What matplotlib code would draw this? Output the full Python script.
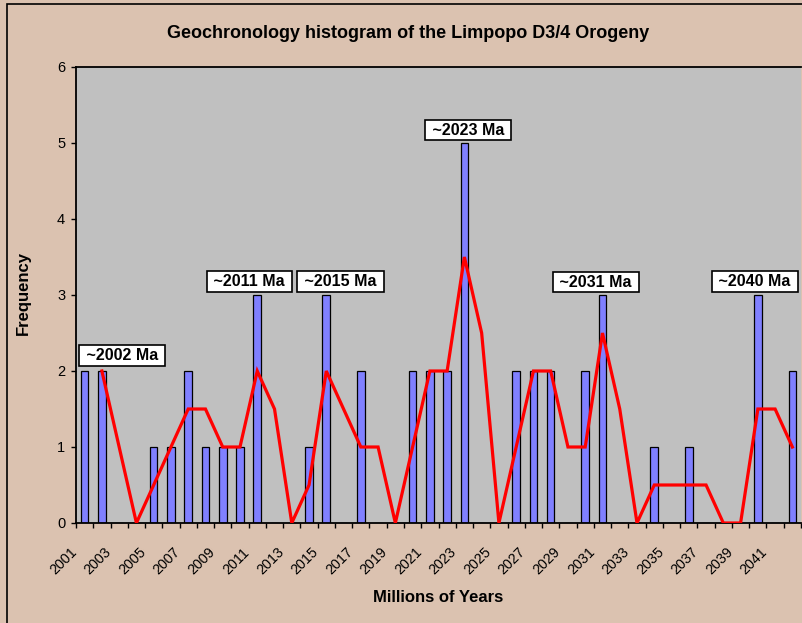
import matplotlib
matplotlib.use("Agg")
import matplotlib.pyplot as plt
from matplotlib.patches import Rectangle
from matplotlib.transforms import ScaledTranslation
import numpy as np

# ---- data ----
years = list(range(2001, 2043))
counts = [2, 2, 0, 0, 1, 1, 2, 1, 1, 1, 3, 0, 0, 1, 3, 0, 2, 0, 0, 2, 2,
          2, 5, 0, 0, 2, 2, 2, 0, 2, 3, 0, 0, 1, 0, 1, 0, 0, 0, 3, 0, 2]
tick_labels = [str(y) for y in years[::2]]
peak_labels = ['~2002 Ma', '~2011 Ma', '~2015 Ma', '~2023 Ma', '~2031 Ma', '~2040 Ma']
peak_pos = [(2.17, 2.20), (9.55, 3.18), (14.82, 3.18), (22.21, 5.17), (29.62, 3.17), (38.83, 3.18)]

title = 'Geochronology histogram of the Limpopo D3/4 Orogeny'
xlabel = 'Millions of Years'
ylabel = 'Frequency'

# ---- style ----
BG = '#DBC2B0'
PLOT_BG = '#C0C0C0'
BAR = '#8080FF'
LINE = '#FF0000'
plt.rcParams['font.family'] = ['Liberation Sans', 'DejaVu Sans']

W, H = 802, 623
fig = plt.figure(figsize=(W / 100, H / 100), dpi=100, facecolor=BG)
ax = fig.add_axes([76 / W, 1 - 523 / H, (801 - 76) / W, (523 - 67) / H])
ax.set_facecolor(PLOT_BG)

x = np.arange(len(years))
vals = np.array(counts, dtype=float)
ax.bar(x, vals, width=0.44, color=BAR, edgecolor='black', linewidth=0.9, zorder=2)

# 2-period moving average (Excel-style trendline)
ma = (vals[1:] + vals[:-1]) / 2.0
ax.plot(x[1:], ma, color=LINE, linewidth=2.3, zorder=3, solid_joinstyle='miter')

ax.set_xlim(-0.5, len(years) - 0.5)
ax.set_ylim(0, 6)
ax.set_yticks(range(0, 7))
ax.tick_params(axis='y', direction='out', length=3.3, width=1.0, pad=4.5,
               labelsize=10.5, colors='black')
ax.set_xticks(np.arange(-0.5, len(years), 1.0))
ax.set_xticklabels([])
ax.tick_params(axis='x', direction='out', length=3.3, width=1.0)

for s in ['left', 'bottom', 'top']:
    ax.spines[s].set_linewidth(1.3)
    ax.spines[s].set_color('black')
ax.spines['right'].set_visible(False)

# rotated category labels every other year
off = ScaledTranslation(-10 / 100, -27 / 100, fig.dpi_scale_trans)
trans = ax.get_xaxis_transform() + off
for i, lab in zip(x[::2], tick_labels):
    ax.text(i, 0, lab, transform=trans, rotation=45, rotation_mode='anchor',
            ha='right', va='center', fontsize=10.3, clip_on=False)

# peak annotations
for lab, (px, py) in zip(peak_labels, peak_pos):
    ax.text(px, py, ' ' + lab + ' ', ha='center', va='center', fontsize=11.5,
            fontweight='bold', zorder=5,
            bbox=dict(boxstyle='square,pad=0.18', fc='white', ec='black', lw=1.2))

fig.text(408 / W, 1 - 33 / H, title, ha='center', va='center',
         fontsize=13, fontweight='bold')
fig.text(23 / W, 1 - 293 / H, ylabel, ha='center', va='center', rotation=90,
         fontsize=12, fontweight='bold')
fig.text(438.5 / W, 1 - 597 / H, xlabel, ha='center', va='center',
         fontsize=12, fontweight='bold')

# outer chart border
fig.patches.append(Rectangle((7 / W, -0.1), 1.2, (1 - 4 / H) + 0.1,
                             transform=fig.transFigure, fill=False,
                             edgecolor='black', linewidth=1.2))

fig.savefig('out.png', dpi=100, facecolor=BG)
